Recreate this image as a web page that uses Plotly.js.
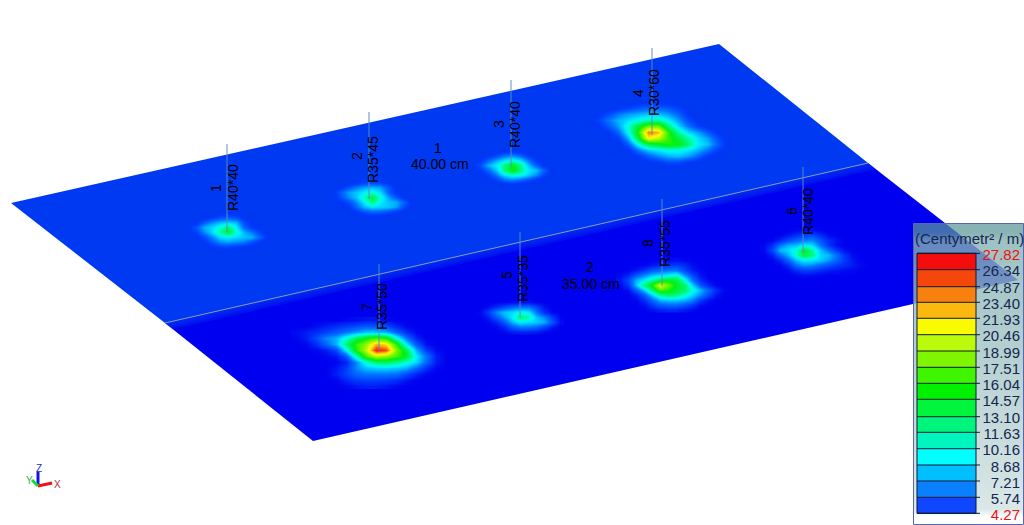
<!DOCTYPE html>
<html><head><meta charset="utf-8">
<script src="https://cdn.plot.ly/plotly-3.0.1.min.js"></script>
<style>html,body{margin:0;padding:0;background:#fff}#c{width:1024px;height:525px}</style>
</head><body><div id="c"></div><script>
// Plate outline (in picture pixels)
const upperPlateX=[11,719,868,165,11], upperPlateY=[203,44,163,323,203];
const lowerPlateX=[165,868,1018,313,165], lowerPlateY=[323,163,280,441,323];
const seamX=[165,868], seamY=[323,163];
const seamGlowX=[[165,868,876,173,165],[165,868,874,171,165],[165,868,872,169,165],[165,868,870,167,165]];
const seamGlowY=[[323,163,169.3,329.3,323],[323,163,167.7,327.7,323],[323,163,166.2,326.2,323],[323,163,164.6,324.6,323]];
// Column stems
const colX=[227,369,511,652,379,520,662,803];
const colTop=[144,112,80,48,264,232,199,167];
const colBottom=[232,199,167,135,350,317,286,253];
// Column labels
const colNum=['1','2','3','4','7','5','8','6'];
const colNumX=[216,357,499,638,367,507,648,792];
const colNumY=[188,156,124,93,307,275,243,211];
const colSec=['R40*40','R35*45','R40*40','R30*60','R35*50','R35*35','R35*55','R40*40'];
const colSecX=[233,373,515,654,382,523,665,808];
const colSecY=[188,160,125,93,307,279,244,212];
// Slab labels
const slabText=['1','40.00 cm','2','35.00 cm'];
const slabX=[438,440,590,591];
const slabY=[148,164,267,284];
// Legend
const legendTitle='(Centymetr\u00b2 / m)';
const levels=['27.82','26.34','24.87','23.40','21.93','20.46','18.99','17.51','16.04','14.57','13.10','11.63','10.16','8.68','7.21','5.74','4.27'];
const levelY=[253.3,269.7,286.7,302.3,318.3,334.7,351,367.3,383.3,399.3,416.7,432.3,448.7,465,481,497.3,513.3];
const levelColors=['#f50c0c','#f5460c','#f7800f','#fbb80e','#fafa00','#bafa0a','#7ff500','#40f500','#00f000','#00f53c','#00f57d','#00f5be','#00ffff','#00bfff','#0a80ff','#0f46ff'];
// Contour values
const B=4.27;
const spot1={x0:188,dx:8,y0:212,dy:5,z:[
[B,B,B,B,4.5,4.6,4.5,B,B,B,B],
[B,B,4.5,5.5,6.5,7,6.5,5,4.3,B,B],
[4.3,5,7,8.5,9.5,10,9.5,6.5,5,4.3,B],
[5,7,9.5,10.5,12,14,11,7.5,5.5,4.5,B],
[4.5,6,8.5,10.5,13,15.5,12,9.5,8,6,4.5],
[B,4.8,6.5,8.5,10.5,11,10.5,10,9.5,7.5,5],
[B,B,5.2,7,8.5,9,8.5,8,6.5,5,4.3],
[B,B,B,5,6,6,5.5,5,4.5,B,B],
[B,B,B,B,4.4,4.5,4.4,B,B,B,B]]};
const spot2={x0:332,dx:8,y0:182,dy:5,z:[
[B,B,4.4,5,5.8,6,5.6,5,4.4,B,B],
[4.3,5,6.5,8,9,9.5,9,7,5,4.3,B],
[4.6,7,9,10,11,12,10.5,7.5,5.2,4.4,B],
[4.8,6.5,8.5,10,12.5,15,12,9,7,5,4.3],
[4.3,5,6.5,8.5,11,14,11,10,9.5,7.5,4.8],
[B,4.4,5.2,7.5,9.5,10.5,10.3,10,9,6.5,4.5],
[B,B,4.4,5.2,6.5,7.2,7,6.2,5.2,4.5,B],
[B,B,B,B,4.4,4.6,4.5,4.3,B,B,B]]};
const spot3={x0:472,dx:8,y0:150,dy:5,z:[
[B,B,B,4.3,4.5,4.8,4.6,4.3,B,B,B],
[B,4.3,4.8,6,7.5,8.2,7.2,5.5,4.6,B,B],
[4.3,5.2,7.2,9.2,10.5,11.5,10.5,8,5.5,4.4,B],
[4.8,6.8,9.5,11,13.5,16.5,13.5,10,7.2,5,4.3],
[4.4,5.4,7.5,10,13.5,17,14,11,10,7.5,4.8],
[B,4.5,5.8,8,10.5,11.5,11.3,10.2,8.5,6,4.4],
[B,B,4.6,5.8,7.5,8.2,7.5,6.3,5,4.4,B],
[B,B,B,B,4.5,4.6,4.4,B,B,B,B]]};
const spot4={x0:588,dx:10,y0:102,dy:6,z:[
[B,B,B,B,4.4,4.8,5,5.2,4.8,4.3,B,B,B,B,B],
[B,4.3,4.5,5.2,6.2,7,7.5,7.5,7,6,4.8,4.3,B,B,B],
[4.3,5,6.5,8,9,9.5,10,9.8,9,7.5,5.2,4.4,B,B,B],
[4.6,6,8,9.5,10.5,11.5,12.5,13,11,9,6.5,4.8,4.3,B,B],
[4.3,5,7,9,12,15.5,19,19,14,10.5,8,6,4.8,B,B],
[B,4.3,5.2,7.5,11.5,17,25,24,17.5,13,10.5,9,7,5,4.3],
[B,B,4.4,5.8,9.5,15.5,22.5,21,17.5,15.5,13,10.5,9,6.5,4.6],
[B,B,B,4.6,7.2,11.5,15,16,17,16.5,14,11,9.8,7.2,4.8],
[B,B,B,4.3,5.2,8,10,10.8,11.5,11.5,10.8,9.5,7.8,5.8,4.4],
[B,B,B,B,4.4,5.5,7.2,8.5,9.5,9.8,9,7.5,5.5,4.5,B],
[B,B,B,B,B,4.5,5,5.5,6.5,6.5,5.5,4.8,4.3,B,B],
[B,B,B,B,B,B,B,4.3,4.5,4.5,4.3,B,B,B,B]]};
const spot7={x0:296,dx:10,y0:320,dy:6,z:[
[B,B,B,B,B,4.4,4.6,4.8,4.8,4.5,B,B,B,B,B,B],
[B,4.3,4.6,5,5.5,6,6.5,7,7,6.5,5.2,4.4,B,B,B,B],
[4.5,5,5.5,6.2,7,8,9,10,10,9.5,7.5,5.5,4.4,B,B,B],
[4.4,5,6.5,8.5,9.5,12,14.5,16.5,18,17,12,8,5.2,B,B,B],
[B,4.4,5.5,7.5,9.5,14,17.5,20,24,23,17.5,11,7,4.6,B,B],
[B,B,4.4,5,6.5,11,17,21,27,26,19.5,15,9.5,6,4.5,B],
[B,B,B,4.4,4.8,7,12.5,18,21,20,18,16,11,8,5,B],
[B,B,B,B,4.4,5.2,8.5,12,14,14.5,13.5,12,10.5,7.5,5,B],
[B,B,B,B,4.8,6,8.5,9.8,10.2,10.3,10,9.5,7.5,5.5,4.4,B],
[B,B,B,B,5,6.2,7.5,8,8,8,7.8,6.5,5.2,4.4,B,B],
[B,B,B,B,4.4,5.2,6,6.2,6.2,6,5.5,4.8,4.3,B,B,B],
[B,B,B,B,B,4.4,4.8,5,5,4.8,4.5,B,B,B,B,B]]};
const spot5={x0:480,dx:8,y0:302,dy:5,z:[
[B,B,B,B,4.4,4.6,4.6,4.3,B,B,B],
[B,4.6,5.5,6.5,7.5,8,8,6.5,4.8,B,B],
[4.4,6,8.5,10,10.5,11.5,11,8,5.5,4.4,B],
[4.3,5,7,9,11,14,13,10,8.5,6,4.4],
[B,4.4,5.2,7,9.5,11,10.5,10.2,9.5,7,4.6],
[B,B,4.4,5.2,7,8,8,7.5,6.2,4.8,B],
[B,B,B,4.4,4.8,5,5,4.8,4.4,B,B]]};
const spot8={x0:620,dx:8,y0:260,dy:5,z:[
[B,B,B,B,B,4.4,4.5,4.6,4.4,B,B,B,B,B],
[B,B,B,4.4,4.8,5.3,5.8,6,5.5,4.6,4.3,B,B,B],
[B,4.3,4.8,5.8,7,7.6,8,8,6.5,5,4.4,B,B,B],
[4.5,5.2,7,8.5,9.8,10.5,11,12,9,6.5,4.8,B,B,B],
[4.8,6.5,9.5,11,13,15,16,15.5,12,8,5.5,4.5,B,B],
[4.5,5.8,10,14,17,22,19,16,14.5,10.5,7,5.2,4.4,B],
[B,4.6,7,10,14,18,17,15.5,14.5,12,9.8,7.5,5.5,4.4],
[B,B,5,7,10,13,14,13.5,12,10.3,8.5,6.5,4.8,B],
[B,B,4.4,5.5,7.5,9.5,10,10,9.5,8.5,6,4.7,B,B],
[B,B,B,4.6,5.8,7,7.5,7.5,6.8,5.8,4.6,B,B,B],
[B,B,B,B,4.6,5,5.2,5.2,4.8,4.4,B,B,B,B]]};
const spot6={x0:764,dx:8,y0:230,dy:5,z:[
[B,B,B,B,4.4,4.6,4.6,4.3,B,B,B,B,B,B],
[B,B,4.3,4.8,5.5,6.2,6.5,5.5,4.5,B,B,B,B,B],
[B,4.4,5.2,6.5,7.5,8.2,8.5,7,5.5,4.8,4.3,B,B,B],
[4.4,5.5,8,9.5,9.8,11,10.5,8,5.8,4.6,B,B,B,B],
[4.5,6.5,9.8,10.5,12,16,13,10,8,6,4.7,4.3,B,B],
[4.3,5,7.5,9.5,12,15.5,13.5,10.5,9.8,8,5.8,4.6,B,B],
[B,4.3,5.2,7.5,9.8,11,10.8,10.2,9,7.5,6,4.9,4.3,B],
[B,B,4.4,5.5,7.8,8.8,8.5,7.5,6.8,6,5.5,5,4.5,B],
[B,B,B,4.5,5.5,6.2,6,5.5,5,4.8,4.6,4.5,4.3,B],
[B,B,B,B,4.4,4.6,4.5,4.3,B,B,B,B,B,B]]};
const spots=[spot1,spot2,spot3,spot4,spot5,spot6,spot7,spot8];
const fieldScale=[
[4.27,'rgba(0,50,245,0)'],[5.2,'rgba(0,55,250,0.65)'],[6.5,'rgb(0,75,255)'],[8,'rgb(0,115,255)'],
[9.5,'rgb(0,180,255)'],[11,'rgb(0,240,255)'],[12,'rgb(0,255,210)'],[13,'rgb(0,250,160)'],
[14.5,'rgb(0,245,90)'],[16.5,'rgb(0,240,20)'],[18,'rgb(70,245,0)'],[19.5,'rgb(130,245,0)'],[21,'rgb(190,250,10)'],
[22.5,'rgb(250,250,0)'],[24,'rgb(251,184,14)'],[25,'rgb(247,128,15)'],[26,'rgb(245,70,12)'],[27.82,'rgb(245,12,12)']
].map(s=>[(s[0]-4.27)/(27.82-4.27),s[1]]);

const traces=[];
// Layer 1: plates
traces.push({type:'scatter',x:upperPlateX,y:upperPlateY,mode:'lines',fill:'toself',fillcolor:'#0039f2',line:{width:0,color:'#0039f2'},hoverinfo:'skip'});
traces.push({type:'scatter',x:lowerPlateX,y:lowerPlateY,mode:'lines',fill:'toself',fillcolor:'#0000f0',line:{width:0,color:'#0000f0'},hoverinfo:'skip'});
seamGlowX.forEach((gx,i)=>traces.push({type:'scatter',x:gx,y:seamGlowY[i],mode:'lines',fill:'toself',fillcolor:'rgba(0,57,242,0.28)',line:{width:0},hoverinfo:'skip'}));
// Layer 2: field + stems
spots.forEach(s=>traces.push({type:'heatmap',xaxis:'x2',yaxis:'y2',x0:s.x0,dx:s.dx,y0:s.y0,dy:s.dy,z:s.z,zmin:4.27,zmax:27.82,zsmooth:'best',colorscale:fieldScale,showscale:false,hoverinfo:'skip'}));
traces.push({type:'scatter',xaxis:'x2',yaxis:'y2',x:seamX,y:seamY,mode:'lines',line:{color:'#8a96b8',width:1},hoverinfo:'skip'});
colX.forEach((cx,i)=>traces.push({type:'scatter',xaxis:'x2',yaxis:'y2',x:[cx,cx],y:[colTop[i],colBottom[i]],mode:'lines',line:{color:'rgba(85,140,195,0.95)',width:1},hoverinfo:'skip'}));
// Triad
const triad=[{x:[38,38],y:[486,472],c:'#1010f0',w:3},{x:[38,52],y:[486,483],c:'#f01010',w:3},{x:[38,32],y:[486,480],c:'#10e030',w:3}];
triad.forEach(t=>traces.push({type:'scatter',xaxis:'x2',yaxis:'y2',x:t.x,y:t.y,mode:'lines',line:{color:t.c,width:t.w},hoverinfo:'skip'}));
// Layer 3: legend
traces.push({type:'heatmap',xaxis:'x3',yaxis:'y3',x:[913.5,968,1024],y:[223.5,240,508,524],z:[[0,0],[0.5,0.5],[1,1]],zsmooth:'best',zmin:0,zmax:1,showscale:false,hoverinfo:'skip',
  colorscale:[[0,'rgba(90,150,152,0.72)'],[1,'rgba(255,255,255,0.95)']]});
traces.push({type:'scatter',xaxis:'x3',yaxis:'y3',x:[913.5,1023.5,1023.5,913.5,913.5],y:[223.5,223.5,524.5,524.5,223.5],mode:'lines',line:{color:'#5a64b4',width:1},hoverinfo:'skip'});
traces.push({type:'bar',xaxis:'x3',yaxis:'y3',x:levelColors.map(()=>946.5),width:levelColors.map(()=>59),
  base:levelColors.map((c,i)=>levelY[i]),y:levelColors.map((c,i)=>levelY[i+1]-levelY[i]),orientation:'v',marker:{color:levelColors,line:{width:0}},hoverinfo:'skip'});
const tickX=[],tickY=[];
levelY.forEach(v=>{tickX.push(917,980,null);tickY.push(v,v,null);});
traces.push({type:'scatter',xaxis:'x3',yaxis:'y3',x:tickX,y:tickY,mode:'lines',line:{color:'#0c1a30',width:1},hoverinfo:'skip'});
traces.push({type:'scatter',xaxis:'x3',yaxis:'y3',x:[917,976,976,917,917],y:[levelY[0],levelY[0],levelY[16],levelY[16],levelY[0]],mode:'lines',line:{color:'#0c1a30',width:1},hoverinfo:'skip'});
traces.push({type:'scatter',xaxis:'x3',yaxis:'y3',x:levels.map(()=>1020),y:levelY.map(v=>v+3),mode:'text',text:levels,textposition:'middle left',
  textfont:{family:'Liberation Sans',size:15,color:levels.map((l,i)=>(i===0||i===16)?'#f01010':'#16264e')},hoverinfo:'skip'});

const ann=[];
const addT=(t,x,y,opt)=>ann.push(Object.assign({text:t,x:x,y:y,xref:'x',yref:'y',showarrow:false,xanchor:'center',yanchor:'middle',
  font:{family:'Liberation Sans',size:14,color:'#000'}},opt||{}));
colNum.forEach((t,i)=>addT(t,colNumX[i],colNumY[i],{textangle:-90}));
colSec.forEach((t,i)=>addT(t,colSecX[i],colSecY[i],{textangle:-90}));
slabText.forEach((t,i)=>addT(t,slabX[i],slabY[i]));
addT(legendTitle,969,238,{font:{family:'Liberation Sans',size:15,color:'#16264e'}});
addT('Z',39,468,{font:{family:'Liberation Sans',size:10,color:'#2030c0'}});
addT('X',57,484,{font:{family:'Liberation Sans',size:10,color:'#b03040'}});
addT('Y',29,480,{font:{family:'Liberation Sans',size:10,color:'#30b050'}});

const ax={range:[0,1024],visible:false,fixedrange:true,domain:[0,1]};
const ay={range:[525,0],visible:false,fixedrange:true,domain:[0,1]};
const layout={width:1024,height:525,margin:{l:0,r:0,t:0,b:0},paper_bgcolor:'#fff',plot_bgcolor:'#fff',showlegend:false,barmode:'overlay',
  xaxis:ax,yaxis:ay,
  xaxis2:Object.assign({},ax,{overlaying:'x',anchor:'y2'}),yaxis2:Object.assign({},ay,{overlaying:'y',anchor:'x2'}),
  xaxis3:Object.assign({},ax,{overlaying:'x',anchor:'y3'}),yaxis3:Object.assign({},ay,{overlaying:'y',anchor:'x3'}),
  annotations:ann};
Plotly.newPlot('c',traces,layout,{displayModeBar:false,staticPlot:true});
</script></body></html>
